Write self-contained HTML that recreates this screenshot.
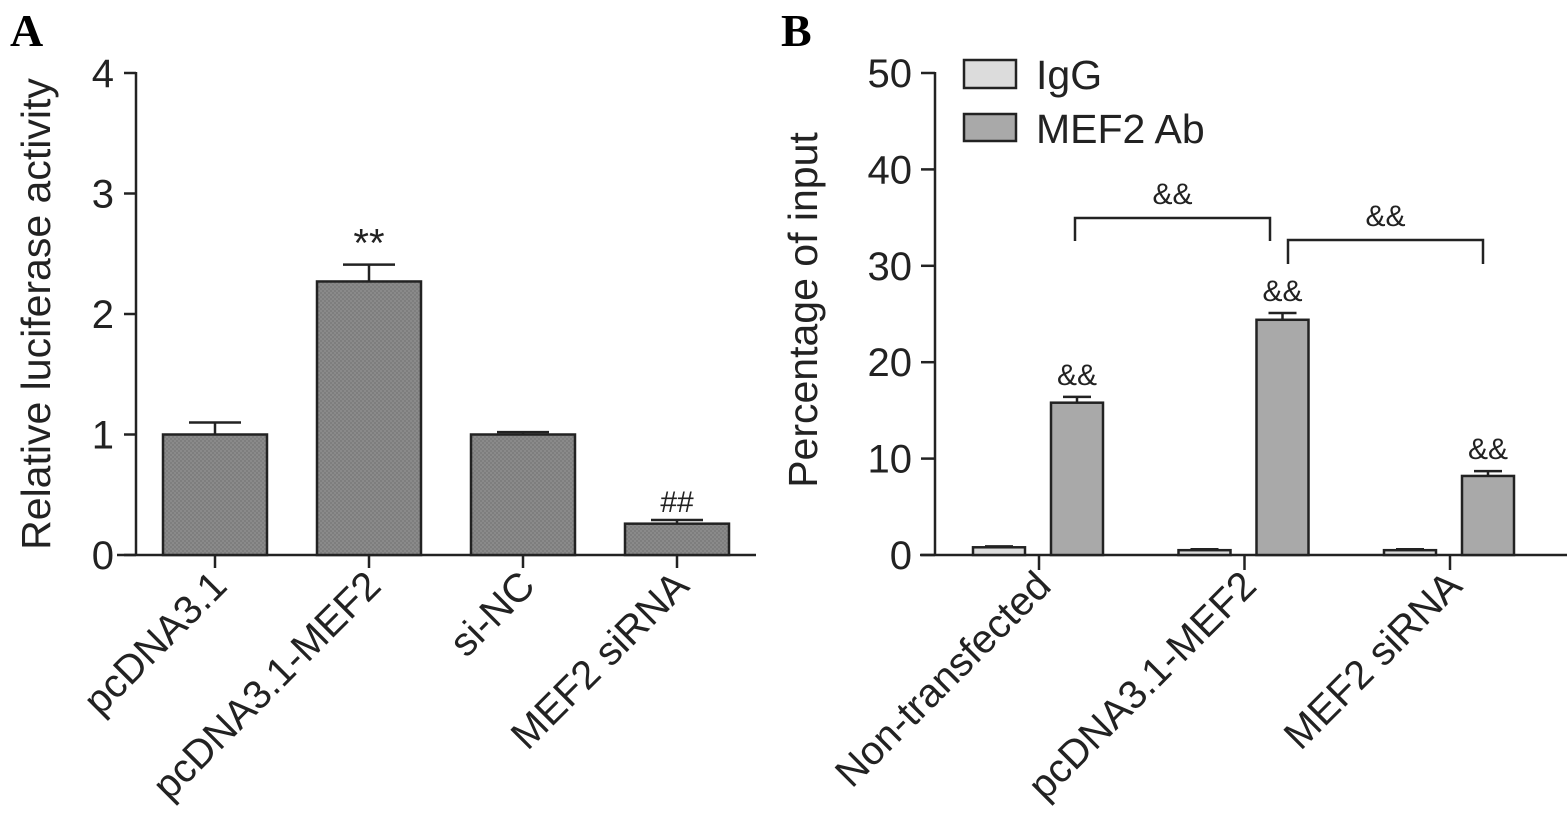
<!DOCTYPE html>
<html><head><meta charset="utf-8">
<style>
html,body{margin:0;padding:0;background:#fff;}
svg{display:block;font-family:"Liberation Sans",Arial,sans-serif;}
</style></head>
<body>
<svg id="chart" width="1567" height="838" viewBox="0 0 1567 838" xmlns="http://www.w3.org/2000/svg">
<defs>
<pattern id="tex" width="4" height="4" patternUnits="userSpaceOnUse">
<rect width="4" height="4" fill="#8a8a8a"/><rect width="2" height="2" fill="#7e7e7e"/><rect x="2" y="2" width="2" height="2" fill="#7e7e7e"/>
</pattern>
</defs>
<text x="10" y="46" font-family="Liberation Serif,serif" font-weight="bold" font-size="46">A</text>
<text x="781" y="46" font-family="Liberation Serif,serif" font-weight="bold" font-size="46">B</text>
<g id="pa"></g>
<g id="pb"></g>
</svg>
<script>
// Panel A data
const catsA = ["pcDNA3.1","pcDNA3.1-MEF2","si-NC","MEF2 siRNA"];
const valsA = [1.0, 2.27, 1.0, 0.26];
const errsA = [0.10, 0.14, 0.02, 0.03];
const marksA = ["", "**", "", "##"];
const ticksA = [0,1,2,3,4];
// Panel B data
const catsB = ["Non-transfected","pcDNA3.1-MEF2","MEF2 siRNA"];
const igg = [0.8, 0.5, 0.5];
const iggErr = [0.1, 0.1, 0.1];
const mef = [15.8, 24.4, 8.2];
const mefErr = [0.6, 0.7, 0.5];
const ticksB = [0,10,20,30,40,50];

const NS="http://www.w3.org/2000/svg";
const FS=40;
function mk(parent,tag,attrs,text){const e=document.createElementNS(NS,tag);for(const k in attrs)e.setAttribute(k,attrs[k]);if(text!==undefined)e.textContent=text;parent.appendChild(e);return e;}

// Panel A
const pa=document.getElementById('pa');
const yA=v=>555-v*120.5;
const xA=i=>215+i*154;
mk(pa,'line',{x1:136,y1:72,x2:136,y2:555,stroke:'#222','stroke-width':2.5});
mk(pa,'line',{x1:117,y1:555,x2:756,y2:555,stroke:'#222','stroke-width':2.5});
ticksA.forEach(t=>{
  const l=mk(pa,'line',{x1:124,y1:yA(t),x2:136,y2:yA(t),stroke:'#222','stroke-width':2.5});
  
  
  const tx=mk(pa,'text',{x:114,y:yA(t)+14,'text-anchor':'end','font-size':FS,fill:'#222'},t);
  
  
});
const ytA=mk(pa,'text',{transform:'translate(50,314) rotate(-90)','text-anchor':'middle','font-size':41,fill:'#222'},'Relative luciferase activity');


catsA.forEach((c,i)=>{
  const cx=xA(i);
  const b=mk(pa,'rect',{x:cx-52,y:yA(valsA[i]),width:104,height:555-yA(valsA[i]),fill:'url(#tex)',stroke:'#222','stroke-width':2.5});
  
  
  const ey=yA(valsA[i]+errsA[i]);
  mk(pa,'line',{x1:cx,y1:yA(valsA[i]),x2:cx,y2:ey,stroke:'#222','stroke-width':2.5});
  const e=mk(pa,'line',{x1:cx-26,y1:ey,x2:cx+26,y2:ey,stroke:'#222','stroke-width':2.5});
  
  
  mk(pa,'line',{x1:cx,y1:555,x2:cx,y2:568,stroke:'#222','stroke-width':2.5});
  if(marksA[i]){const m=mk(pa,'text',{x:cx,y:ey-8,'text-anchor':'middle','font-size':marksA[i]=="**"?40:30,fill:'#222'},marksA[i]);
    
    }
  const lb=mk(pa,'text',{transform:`translate(${cx+14},588) rotate(-45)`,'text-anchor':'end','font-size':FS,fill:'#222'},c);
  
  
});

// Panel B
const pb=document.getElementById('pb');
const yB=v=>555-v*9.64;
const xB=i=>1039+i*205.5;
mk(pb,'line',{x1:935,y1:72,x2:935,y2:555,stroke:'#222','stroke-width':2.5});
mk(pb,'line',{x1:920,y1:555,x2:1567,y2:555,stroke:'#222','stroke-width':2.5});
ticksB.forEach(t=>{
  const l=mk(pb,'line',{x1:921,y1:yB(t),x2:935,y2:yB(t),stroke:'#222','stroke-width':2.5});
  
  
  const tx=mk(pb,'text',{x:912,y:yB(t)+14,'text-anchor':'end','font-size':FS,fill:'#222'},t);
  
  
});
const ytB=mk(pb,'text',{transform:'translate(817,310) rotate(-90)','text-anchor':'middle','font-size':41,fill:'#222'},'Percentage of input');


function barB(cx,v,er,fill,name,mark){
  const b=mk(pb,'rect',{x:cx-26,y:yB(v),width:52,height:555-yB(v),fill:fill,stroke:'#222','stroke-width':2.5});
  
  
  const ey=yB(v+er);
  mk(pb,'line',{x1:cx,y1:yB(v),x2:cx,y2:ey,stroke:'#222','stroke-width':2.5});
  mk(pb,'line',{x1:cx-14,y1:ey,x2:cx+14,y2:ey,stroke:'#222','stroke-width':2.5});
  if(mark){const m=mk(pb,'text',{x:cx,y:ey-12,'text-anchor':'middle','font-size':30,fill:'#222'},mark);
    
    }
}
catsB.forEach((c,i)=>{
  const cx=xB(i);
  barB(cx-40,igg[i],iggErr[i],'#dcdcdc','bar-igg-'+i,'');
  barB(cx+38,mef[i],mefErr[i],'#a9a9a9','bar-mef2-'+i,'&&');
  mk(pb,'line',{x1:cx,y1:555,x2:cx,y2:570,stroke:'#222','stroke-width':2.5});
  const lb=mk(pb,'text',{transform:`translate(${cx+14},588) rotate(-45)`,'text-anchor':'end','font-size':FS,fill:'#222'},c);
  
  
});
// brackets
function bracket(x1,x2,top,bot){
  const p=mk(pb,'path',{d:`M${x1},${bot} V${top} H${x2} V${bot}`,fill:'none',stroke:'#222','stroke-width':2.5});
  
  
  const t=mk(pb,'text',{x:(x1+x2)/2,y:top-14,'text-anchor':'middle','font-size':30,fill:'#222'},'&&');
  
  
}
bracket(1075,1270,218,241);
bracket(1288,1483,240,264);
// legend
const lg=mk(pb,'g',{});


const l1=mk(lg,'rect',{x:964,y:60,width:52,height:28,fill:'#dcdcdc',stroke:'#222','stroke-width':2.5});


const t1=mk(lg,'text',{x:1036,y:89,'font-size':41,fill:'#222'},'IgG');


const l2=mk(lg,'rect',{x:964,y:114,width:52,height:27,fill:'#a9a9a9',stroke:'#222','stroke-width':2.5});


const t2=mk(lg,'text',{x:1036,y:143,'font-size':41,fill:'#222'},'MEF2 Ab');


</script>
</body></html>
